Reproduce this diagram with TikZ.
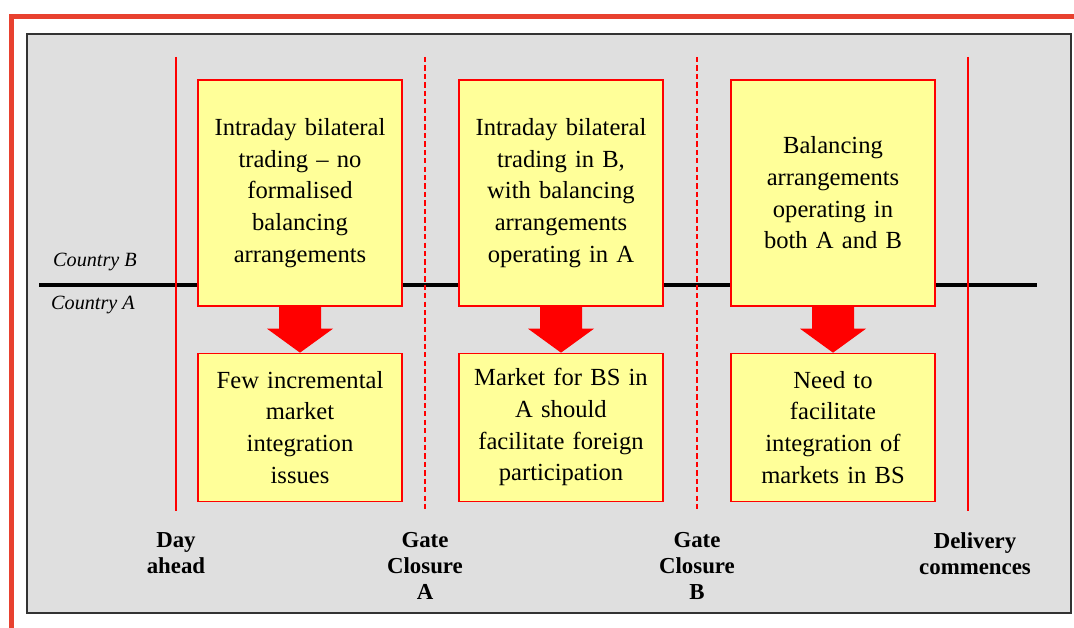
\documentclass[tikz,border=0pt]{standalone}
\usepackage{fontspec}
\setmainfont{Liberation Serif}
\usetikzlibrary{positioning,calc}
\definecolor{framered}{HTML}{E8412F}
\definecolor{panelgray}{HTML}{DFDFDF}
\definecolor{boxyellow}{HTML}{FFFF99}

\begin{document}
\begin{tikzpicture}[x=0.02cm,y=-0.02cm,
 stagebox/.style={draw=red,fill=boxyellow,line width=0.8pt,minimum width=4.08cm,
   text width=3.8cm,align=center,inner sep=0pt,font=\fontsize{14}{18}\selectfont},
 stagetop/.style={stagebox,minimum height=4.52cm},
 stagebot/.style={stagebox,minimum height=2.96cm},
 milestone/.style={red,line width=0.75pt},
 gate/.style={milestone,dash pattern=on 3pt off 1.8pt},
 timelabel/.style={anchor=north,align=center,font=\fontsize{13}{14.8}\selectfont\bfseries},
 country/.style={anchor=west,font=\fontsize{11.5}{13}\selectfont\itshape}]
 \useasboundingbox (0,0) rectangle (1074,628);
 % frame and panel
 \draw[framered,line width=2.8pt] (11.5,628) -- (11.5,16.5) -- (1074,16.5);
 \draw[fill=panelgray,draw=black!80,line width=0.9pt] (27,34) rectangle (1071,613);
 \draw[black,line width=2.3pt] (39,285) -- (1037,285);
 \node[country] (cB) at (47,262) {Country B};
 \node[country] (cA) at (45,305) {Country A};

 % milestones
 \draw[milestone] (176,57) -- (176,511);
 \draw[gate] (425,57) -- (425,511);
 \draw[gate] (697,57) -- (697,511);
 \draw[milestone] (968,57) -- (968,511);
 \node[timelabel] (dayahead) at (176,526) {Day\\ahead};
 \node[timelabel] (gateA) at (425,526) {Gate\\Closure\\A};
 \node[timelabel] (gateB) at (697,526) {Gate\\Closure\\B};
 \node[timelabel] (delivery) at (975,526) {Delivery\\commences};

 % stages
 \node[stagetop] (t1) at (300,193) {Intraday bilateral\\trading -- no\\formalised\\balancing\\arrangements};
 \node[stagetop] (t2) at (561,193) {Intraday bilateral\\trading in B,\\with balancing\\arrangements\\operating in A};
 \node[stagetop] (t3) at (833,193) {Balancing\\arrangements\\operating in\\both A and B};
 \node[stagebot] (b1) [below=0.92cm of t1] {Few incremental\\market\\integration\\issues};
 \node[stagebot] (b2) [below=0.92cm of t2] {Market for BS in\\A should\\facilitate foreign\\participation};
 \node[stagebot] (b3) [below=0.92cm of t3] {Need to\\facilitate\\integration of\\markets in BS};

 \foreach \i in {1,2,3}
  \fill[red] ($(t\i.south)+(-21,0)$) -- ++(42,0) -- ++(0,22) -- ++(12,0)
   -- (b\i.north) -- ($(t\i.south)+(-33,22)$) -- ++(12,0) -- cycle;
\end{tikzpicture}
\end{document}
